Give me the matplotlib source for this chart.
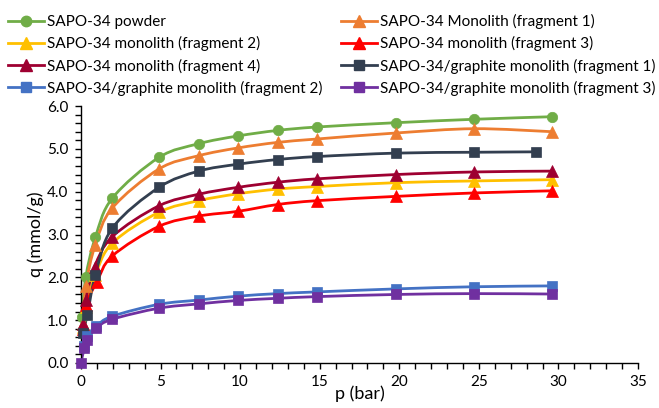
import numpy as np
import matplotlib
matplotlib.use("Agg")
import matplotlib.pyplot as plt
from matplotlib.path import Path
from matplotlib.patches import PathPatch
from matplotlib.lines import Line2D
from matplotlib.ticker import MultipleLocator, FormatStrFormatter

plt.rcParams['font.family'] = ['Lato', 'DejaVu Sans']

# ---------------- data ----------------
labels = [
    "SAPO-34 powder",
    "SAPO-34 Monolith (fragment 1)",
    "SAPO-34 monolith (fragment 2)",
    "SAPO-34 monolith (fragment 3)",
    "SAPO-34 monolith (fragment 4)",
    "SAPO-34/graphite monolith (fragment 1)",
    "SAPO-34/graphite monolith (fragment 2)",
    "SAPO-34/graphite monolith (fragment 3)",
]
colors = ["#70AD47", "#ED7D31", "#FFC000", "#FF0000", "#9E0031",
          "#333F50", "#4472C4", "#7030A0"]
markers = ["o", "^", "^", "^", "^", "s", "s", "s"]

p_hi = [4.9, 7.4, 9.85, 12.35, 14.85, 19.8, 24.7, 29.6]

x_powder = [0.06, 0.3, 0.9, 1.97] + p_hi
q_powder = [1.07, 2.0, 2.93, 3.85, 4.80, 5.12, 5.30, 5.43, 5.51, 5.61, 5.69, 5.75]

x_frag1 = [0.1, 0.3, 0.9, 1.97] + p_hi
q_frag1 = [0.9, 1.8, 2.76, 3.62, 4.53, 4.84, 5.02, 5.15, 5.23, 5.37, 5.47, 5.40]

x_frag2 = [0.1, 0.3, 0.9, 1.97] + p_hi
q_frag2 = [0.85, 1.3, 2.05, 2.80, 3.52, 3.79, 3.95, 4.06, 4.12, 4.21, 4.25, 4.28]

x_frag3 = [0.1, 0.3, 1.0, 1.97] + p_hi
q_frag3 = [0.8, 1.35, 1.9, 2.50, 3.19, 3.43, 3.54, 3.70, 3.79, 3.89, 3.97, 4.02]

x_frag4 = [0.1, 0.3, 0.85, 1.97] + p_hi
q_frag4 = [0.9, 1.47, 2.24, 2.95, 3.67, 3.94, 4.10, 4.22, 4.30, 4.40, 4.46, 4.48]

x_gr1 = [0.1, 0.4, 0.9, 1.97, 4.9, 7.4, 9.85, 12.35, 14.85, 19.8, 24.7, 28.6]
q_gr1 = [0.69, 1.13, 2.05, 3.15, 4.10, 4.48, 4.64, 4.75, 4.82, 4.90, 4.92, 4.93]

x_gr2 = [0.2, 0.4, 0.95, 1.95] + p_hi
q_gr2 = [0.40, 0.64, 0.86, 1.09, 1.37, 1.47, 1.56, 1.62, 1.66, 1.73, 1.78, 1.80]

x_gr3 = [0.0, 0.2, 0.4, 0.93, 1.95] + p_hi
q_gr3 = [0.0, 0.34, 0.54, 0.81, 1.02, 1.28, 1.38, 1.46, 1.51, 1.55, 1.60, 1.62, 1.61]

series_x = [x_powder, x_frag1, x_frag2, x_frag3, x_frag4, x_gr1, x_gr2, x_gr3]
series_q = [q_powder, q_frag1, q_frag2, q_frag3, q_frag4, q_gr1, q_gr2, q_gr3]

x_ticks = [0, 5, 10, 15, 20, 25, 30, 35]
y_ticks = [0.0, 1.0, 2.0, 3.0, 4.0, 5.0, 6.0]


def smooth_path(xs, ys):
    pts = np.column_stack([xs, ys]).astype(float)
    n = len(pts)
    verts = [pts[0]]
    codes = [Path.MOVETO]
    for i in range(n - 1):
        p0 = pts[i - 1] if i > 0 else pts[i]
        p1 = pts[i]
        p2 = pts[i + 1]
        p3 = pts[i + 2] if i + 2 < n else pts[i + 1]
        c1 = p1 + (p2 - p0) / 6.0
        c2 = p2 - (p3 - p1) / 6.0
        verts += [c1, c2, p2]
        codes += [Path.CURVE4] * 3
    return Path(np.array(verts), codes)


fig = plt.figure(figsize=(6.59, 4.08), dpi=100)
ax = fig.add_axes([81 / 659, 45 / 408, (638 - 81) / 659, (363 - 106) / 408])

lw = 2.0
msizes = {"o": 7.5, "^": 8.0, "s": 7.0}
handles = []
for xs, qs, c, m, lab in zip(series_x, series_q, colors, markers, labels):
    ax.add_patch(PathPatch(smooth_path(xs, qs), fill=False, edgecolor=c,
                           lw=lw, capstyle='round', joinstyle='round', zorder=2))
    ax.plot(xs, qs, linestyle='none', marker=m, markersize=msizes[m],
            color=c, markeredgecolor=c, markeredgewidth=0.5, zorder=3,
            clip_on=False)
    handles.append(Line2D([], [], color=c, lw=lw, marker=m,
                          markersize=msizes[m], markeredgecolor=c))

ax.set_xlim(0, 35)
ax.set_ylim(0, 6.0)
ax.set_xticks(x_ticks)
ax.set_yticks(y_ticks)
ax.yaxis.set_major_formatter(FormatStrFormatter('%.1f'))
ax.xaxis.set_minor_locator(MultipleLocator(1))
ax.yaxis.set_minor_locator(MultipleLocator(0.2))
for s in ['top', 'right']:
    ax.spines[s].set_visible(False)
for s in ['left', 'bottom']:
    ax.spines[s].set_color('#000000')
    ax.spines[s].set_linewidth(1.0)
ax.tick_params(which='both', direction='out', length=4, width=1, color='#000000',
               labelsize=11, labelcolor='#000000')
ax.tick_params(axis='x', pad=5)
ax.tick_params(axis='y', pad=5)

ax.set_xlabel("p (bar)", fontsize=13, labelpad=-3)
ax.set_ylabel("q (mmol/g)", fontsize=13, labelpad=2)

# legend: Excel fills rows first; matplotlib fills columns
order = [0, 2, 4, 6, 1, 3, 5, 7]
fig.legend([handles[i] for i in order], [labels[i] for i in order],
           ncol=2, loc='upper left', bbox_to_anchor=(8 / 659, 1 - 14 / 408),
           frameon=False, fontsize=11, handlelength=2.36, handletextpad=0.2,
           columnspacing=1.18, labelspacing=0.47, borderpad=0, borderaxespad=0)

fig.savefig("out.png", dpi=100)
